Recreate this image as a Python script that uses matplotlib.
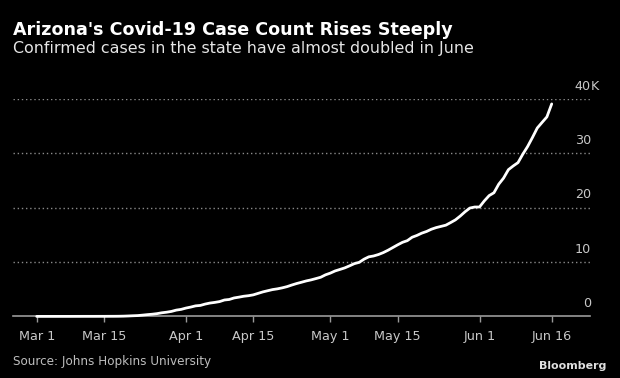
import matplotlib
matplotlib.use("Agg")
import matplotlib.pyplot as plt
import matplotlib.dates as mdates
import matplotlib.transforms as mtransforms
import numpy as np
import pandas as pd

# ---- data ----
march = [1, 1, 1, 1, 1, 2, 2, 2, 5, 6, 9, 9, 9, 12, 13, 18, 20, 27, 45, 78, 118,
         152, 235, 326, 401, 508, 665, 773, 919, 1157, 1289]
april = [1530, 1715, 1937, 2019, 2269, 2456, 2575, 2726, 3018, 3112, 3393, 3539,
         3705, 3809, 3964, 4237, 4511, 4724, 4933, 5068, 5251, 5473, 5772, 6045,
         6280, 6526, 6716, 6955, 7202, 7648]
may = [7962, 8364, 8640, 8924, 9305, 9707, 9945, 10526, 10960, 11119, 11383,
       11736, 12176, 12674, 13169, 13631, 13937, 14566, 14897, 15315, 15624,
       16039, 16339, 16561, 16783, 17262, 17763, 18465, 19255, 19936, 20123]
june = [20129, 21250, 22223, 22753, 24332, 25451, 26989, 27678, 28296, 29852,
        31264, 32918, 34660, 35691, 36705, 39097]
cases = march + april + may + june
dates = pd.date_range("2020-03-01", periods=len(cases), freq="D")

xtick_dates = ["2020-03-01", "2020-03-15", "2020-04-01", "2020-04-15",
               "2020-05-01", "2020-05-15", "2020-06-01", "2020-06-16"]
xtick_labels = ["Mar 1", "Mar 15", "Apr 1", "Apr 15", "May 1", "May 15", "Jun 1", "Jun 16"]
ytick_values = [0, 10000, 20000, 30000, 40000]
ytick_labels = ["0", "10", "20", "30", "40"]
ytick_suffix = "K"

title = "Arizona's Covid-19 Case Count Rises Steeply"
subtitle = "Confirmed cases in the state have almost doubled in June"
source = "Source: Johns Hopkins University"
brand = "Bloomberg"

# ---- figure ----
W, H, DPI = 620, 378, 100
fig = plt.figure(figsize=(W / DPI, H / DPI), dpi=DPI, facecolor="black")

def fx(px):
    return px / W

def fy(py):
    return 1 - py / H

ax_left, ax_right = 13, 590
ax_bottom, ax_top = 316.4, 99
ax = fig.add_axes([fx(ax_left), fy(ax_bottom), fx(ax_right - ax_left), (ax_bottom - ax_top) / H])
ax.set_facecolor("black")

d0 = mdates.date2num(pd.Timestamp("2020-03-01"))
d1 = mdates.date2num(pd.Timestamp("2020-06-16"))
ppd = (551.7 - 36.7) / (d1 - d0)
ax.set_xlim(d0 - (36.7 - ax_left) / ppd, d0 + (ax_right - 36.7) / ppd)
ax.set_ylim(0, 40000)

for v in ytick_values[1:]:
    ax.axhline(v, color="#8a8a8a", lw=1.0, ls=(0, (1, 2)), zorder=1)

ax.plot(dates, cases, color="white", lw=2.0, solid_capstyle="round",
        solid_joinstyle="round", clip_on=False, zorder=3)

for s in ["top", "right", "left"]:
    ax.spines[s].set_visible(False)
ax.spines["bottom"].set_color("#9a9a9a")
ax.spines["bottom"].set_linewidth(1.2)
ax.set_xticks([mdates.date2num(pd.Timestamp(d)) for d in xtick_dates])
ax.set_xticklabels(xtick_labels)
ax.tick_params(axis="x", direction="out", length=4, width=1, color="#9a9a9a",
               labelcolor="#c8c8c8", labelsize=9.2, pad=6)
ax.set_yticks([])

# y labels on the right, above gridlines
trans = mtransforms.blended_transform_factory(fig.transFigure, ax.transData)
off = mtransforms.ScaledTranslation(0, 13 / DPI, fig.dpi_scale_trans)
for v, lab in zip(ytick_values, ytick_labels):
    ax.text(fx(591), v, lab, transform=trans + off, ha="right", va="center",
            color="#c8c8c8", fontsize=9.2)
    if v == ytick_values[-1]:
        ax.text(fx(591), v, ytick_suffix, transform=trans + off, ha="left",
                va="center", color="#c8c8c8", fontsize=9.2)

# ---- texts fitted to widths ----
fig.canvas.draw()
renderer = fig.canvas.get_renderer()

def fit_text(x, y, s, width_px, size0, **kw):
    t = fig.text(fx(x), fy(y), s, fontsize=size0, **kw)
    w = t.get_window_extent(renderer).width
    t.set_fontsize(size0 * width_px / w)
    return t

fit_text(13, 30, title, 438, 12, color="white", fontweight="bold", va="center", ha="left")
fit_text(13, 48, subtitle, 460, 11, color="#e6e6e6", va="center", ha="left")
fit_text(13, 361, source, 198, 9, color="#bdbdbd", va="center", ha="left")
t = fit_text(606, 366, brand, 67, 9, color="#e0e0e0", fontweight="bold", va="center", ha="right")

fig.savefig("out.png", dpi=DPI, facecolor="black")
